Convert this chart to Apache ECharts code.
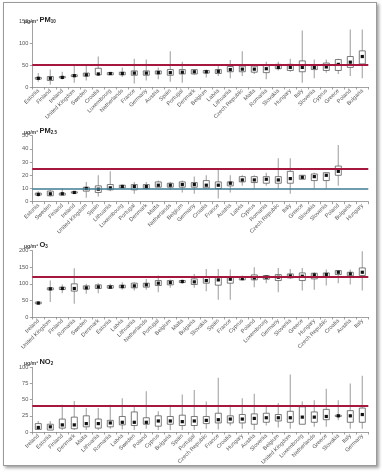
<!DOCTYPE html>
<html>
<head>
<meta charset="utf-8">
<script src="https://cdn.jsdelivr.net/npm/echarts@6/dist/echarts.min.js"></script>
<style>
html,body{margin:0;padding:0;background:#fff;}
#frame{position:absolute;left:3px;top:2px;width:372px;height:462px;border:1px solid #9a9a9a;box-shadow:2px 2px 3px #a0a0a0;background:#fff;}
#chart{position:absolute;left:0;top:0;width:382px;height:472px;}
</style>
</head>
<body>
<div id="frame"></div>
<div id="chart"></div>
<script>
// ---- PM10 ----
const pm10Countries = ['Estonia','Finland','Ireland','United Kingdom','Sweden','Croatia','Luxembourg','Netherlands','France','Germany','Austria','Spain','Portugal','Denmark','Belgium','Latvia','Lithuania','Czech Republic','Malta','Romania','Slovakia','Hungary','Italy','Slovenia','Cyprus','Greece','Poland','Bulgaria'];
const pm10Min  = [12, 5,17,10,15,25,28,23, 8,15,18,12,10,28,22,25,20,25,30,18,38,35, 10,20,33,30, 25, 20];
const pm10Q1   = [18,15,21,24,25,28,28,28,27,27,30,27,30,30,32,31,35,35,34,33,42,38, 35,40,38,38, 45, 53];
const pm10Mean = [20,20,22,26,28,30,31,31,32,32,33,33,34,35,35,36,40,41,41,42,45,45, 45,45,46,52, 57, 70];
const pm10Q3   = [22,24,24,28,32,43,33,34,37,37,37,40,40,40,38,40,47,48,48,49,52,52, 60,50,55,63, 70, 83];
const pm10Max  = [32,40,35,48,52,70,34,45,65,63,45,82,58,40,40,52,62,82,52,58,58,65,130,63,63,65,132,132];

// ---- PM2.5 ----
const pm25Countries = ['Estonia','Sweden','Finland','Ireland','United Kingdom','Spain','Lithuania','Luxembourg','Portugal','Denmark','Malta','Netherlands','Belgium','Germany','Croatia','France','Austria','Latvia','Cyprus','Romania','Czech Republic','Italy','Greece','Slovakia','Slovenia','Poland','Bulgaria','Hungary'];
const pm25Min  = [4,4,5,6,3,4,8,10,6,9,11,9,7,6,10,2.5,7,12,10,12,10,6,17,10,10,12,null,null];
const pm25Q1   = [5,4.5,5,6.5,8,7,9,10.5,9,10,11,11,11,11,10.5,10,12,15,14.5,14,14,14,17,16,16,20,null,null];
const pm25Mean = [5.5,6,6,7,10,9.5,10.5,11.5,11.5,11.5,12.5,12.5,13,13,12.5,12.5,14,16.5,16.5,17,16.5,17.5,18.5,19,20,23,null,null];
const pm25Q3   = [6.5,8,6.5,7.5,11,12,13,12.5,13,13,15,14,15,14.5,16,15,15,19,19,19,19,23,20,21,22,27,null,null];
const pm25Max  = [8,9,10,8,15,20,23,13,15,15,16,15,16,19,20,25,20,20,20,22,33,33,20,22,22,43,null,null];

// ---- O3 ----
const o3Countries = ['Ireland','United Kingdom','Finland','Romania','Sweden','Denmark','Estonia','Latvia','Lithuania','Netherlands','Portugal','Belgium','Malta','Bulgaria','Slovakia','Spain','France','Cyprus','Poland','Luxembourg','Germany','Slovenia','Greece','Hungary','Czech Republic','Croatia','Austria','Italy'];
const o3Min  = [38,45,72,40,70,72,85,82,80,82,75,88,100,88,78,52,52,110,90,102,75,115,80,82,95,102,98,80];
const o3Q1   = [40,82,83,78,84,86,87,88,88,90,95,97,104,98,102,96,102,112,112,114,110,118,110,115,120,128,124,125];
const o3Mean = [42,85,86,86,88,91,90,92,94,97,102,104,107,106,110,112,114,116,118,120,120,124,123,127,128,135,130,135];
const o3Q3   = [45,88,90,100,94,97,95,96,102,102,110,110,110,115,122,122,120,122,127,125,128,130,133,132,133,140,135,148];
const o3Max  = [47,110,98,147,100,102,100,105,105,115,125,113,113,130,145,145,143,125,150,127,148,145,148,135,143,140,143,198];

// ---- NO2 ----
const no2Countries = ['Ireland','Estonia','Finland','Denmark','Malta','Lithuania','Romania','Latvia','Sweden','Poland','Cyprus','Bulgaria','Spain','Portugal','Czech Republic','France','Croatia','Hungary','Austria','Slovenia','Belgium','United Kingdom','Luxembourg','Netherlands','Greece','Slovakia','Italy','Germany'];
const no2Min  = [3,3,3,3,3,3,5,4,3,5,3,3,3,3,5,4,10,5,3,10,7,5,12,8,8,18,5,5];
const no2Q1   = [4,3,6,5,8,6,8,11,10,12,9,12,10,10,13,14,14,14,12,15,17,15,12,15,19,24,15,15];
const no2Mean = [7,8,11,11,13,13,14,15,15,15,17,17,16,17,18,19,20,20,21,22,22,22,23,23,24,25,25,27];
const no2Q3   = [13,12,20,23,25,20,18,24,31,22,25,24,26,24,24,29,25,27,28,29,27,32,39,31,35,26,33,37];
const no2Max  = [17,17,42,48,37,37,42,52,40,63,32,42,58,65,47,84,42,52,59,40,45,89,47,49,67,49,75,87];

const panels = [
  {cats:pm10Countries, mn:pm10Min, q1:pm10Q1, md:pm10Mean, q3:pm10Q3, mx:pm10Max, max:150, interval:50, top:21.7, height:65.3, lines:[{v:50,c:'#a5173c'}], title:{b:'PM',s:'10'}, ttop:9},
  {cats:pm25Countries, mn:pm25Min, q1:pm25Q1, md:pm25Mean, q3:pm25Q3, mx:pm25Max, max:50, interval:10, top:135.7, height:66, lines:[{v:25,c:'#a5173c'},{v:10,c:'#3f7d93'}], title:{b:'PM',s:'2.5'}, ttop:120},
  {cats:o3Countries, mn:o3Min, q1:o3Q1, md:o3Mean, q3:o3Q3, mx:o3Max, max:200, interval:50, top:250.7, height:66.3, lines:[{v:120,c:'#a5173c'}], title:{b:'O',s:'3'}, ttop:234},
  {cats:no2Countries, mn:no2Min, q1:no2Q1, md:no2Mean, q3:no2Q3, mx:no2Max, max:100, interval:25, top:367.3, height:64.7, lines:[{v:40,c:'#a5173c'}], title:{b:'NO',s:'2'}, ttop:351}
];

function renderItem(params, api) {
  const x = api.value(0);
  const lo = api.coord([x, api.value(1)]);
  const q1 = api.coord([x, api.value(2)]);
  const md = api.coord([x, api.value(3)]);
  const q3 = api.coord([x, api.value(4)]);
  const hi = api.coord([x, api.value(5)]);
  const bw = 6;
  return {type:'group', children:[
    {type:'line', shape:{x1:lo[0],y1:lo[1],x2:hi[0],y2:hi[1]}, style:{stroke:'#b3b3b3', lineWidth:1.3}},
    {type:'rect', shape:{x:q1[0]-bw/2, y:q3[1], width:bw, height:Math.max(q1[1]-q3[1],1)}, style:{fill:'#fff', stroke:'#5a5a5a', lineWidth:0.8}},
    {type:'rect', shape:{x:md[0]-1.6, y:md[1]-1.6, width:3.2, height:3.2}, style:{fill:'#111'}}
  ]};
}

const grid = [], xAxis = [], yAxis = [], series = [], title = [];
panels.forEach((p, k) => {
  grid.push({left:32.3, width:336, top:p.top, height:p.height});
  xAxis.push({type:'category', gridIndex:k, data:p.cats, boundaryGap:true,
    axisLine:{lineStyle:{color:'#8a8a8a', width:0.8}},
    axisTick:{show:true, length:2.5, interval:0, lineStyle:{color:'#8a8a8a', width:0.8}},
    axisLabel:{interval:0, rotate:45, fontSize:5.6, color:'#555', margin:3, fontFamily:'Liberation Sans'}
  });
  yAxis.push({type:'value', gridIndex:k, min:0, max:p.max, interval:p.interval,
    axisLine:{show:true, lineStyle:{color:'#8a8a8a', width:0.8}},
    axisTick:{show:true, length:2.5, lineStyle:{color:'#8a8a8a', width:0.8}},
    axisLabel:{fontSize:5.6, color:'#555', margin:4, fontFamily:'Liberation Sans'},
    splitLine:{show:false}
  });
  const data = [];
  p.cats.forEach((c, i) => {
    if (p.mn[i] == null) return;
    data.push([i, p.mn[i], p.q1[i], p.md[i], p.q3[i], p.mx[i]]);
  });
  series.push({type:'custom', xAxisIndex:k, yAxisIndex:k, renderItem, data,
    encode:{x:0, y:[1,2,3,4,5]}, silent:true,
    markLine:{silent:true, symbol:'none', label:{show:false}, animation:false,
      data:p.lines.map(l => ({yAxis:l.v, lineStyle:{color:l.c, width:l.c==='#a5173c'?2:1.6, type:'solid'}}))}
  });
  title.push({left:19, top:p.ttop,
    text:'{u|µg/m³ }{b|' + p.title.b + '}{s|' + p.title.s + '}',
    textStyle:{rich:{
      u:{fontSize:5.2, color:'#444', fontFamily:'Liberation Sans', verticalAlign:'bottom', lineHeight:10},
      b:{fontSize:7.5, fontWeight:'bold', color:'#222', fontFamily:'Liberation Sans', verticalAlign:'bottom', lineHeight:10},
      s:{fontSize:4.5, fontWeight:'bold', color:'#222', fontFamily:'Liberation Sans', verticalAlign:'bottom', lineHeight:8, padding:[2,0,0,0]}
    }}
  });
});

const chart = echarts.init(document.getElementById('chart'), null, {renderer:'canvas'});
chart.setOption({animation:false, backgroundColor:'transparent', title, grid, xAxis, yAxis, series});
</script>
</body>
</html>
